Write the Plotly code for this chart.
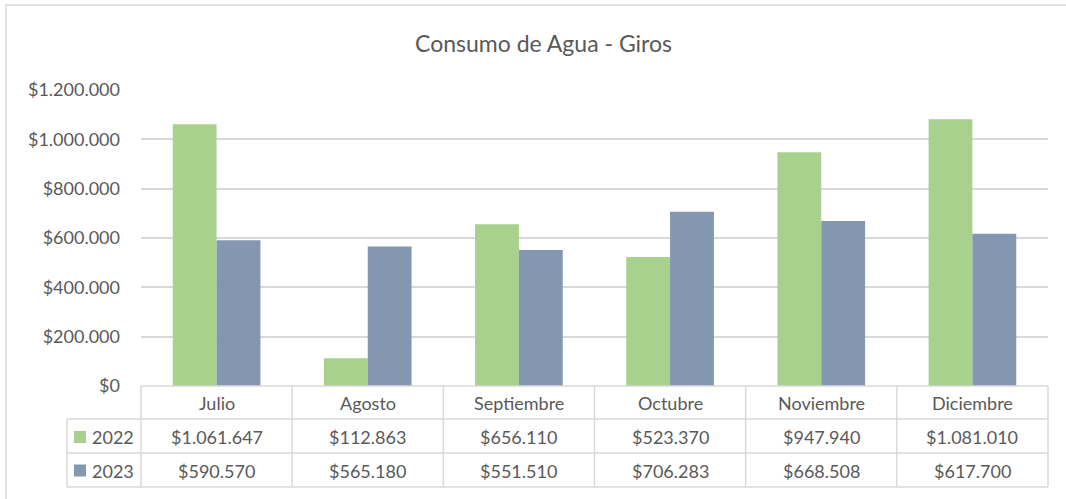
import plotly.graph_objects as go

months = ["Julio", "Agosto", "Septiembre", "Octubre", "Noviembre", "Diciembre"]
series_names = ["2022", "2023"]
values_2022 = [1061647, 112863, 656110, 523370, 947940, 1081010]
values_2023 = [590570, 565180, 551510, 706283, 668508, 617700]
colors = ["#A9D18E", "#8497B0"]
y_tickvals = [0, 200000, 400000, 600000, 800000, 1000000, 1200000]

W, H = 1066, 499
L, R, T, B = 141, 1048, 90, 386  # plot area in px

def fmt(v):
    return "$" + f"{v:,}".replace(",", ".")

def px(xp):
    return (xp - L) / (R - L)

def py(yp):
    return (B - yp) / (B - T)

FONT = "Lato"
TXT = "#595959"
GRID = "#D9D9D9"
FS = 18

fig = go.Figure()
for name, vals, col in zip(series_names, [values_2022, values_2023], colors):
    fig.add_trace(go.Bar(x=months, y=vals, name=name, marker_color=col,
                         marker_line_width=0, showlegend=False))

shapes = []
# outer frame
shapes.append(dict(type="rect", xref="paper", yref="paper",
                   x0=px(6), x1=px(W + 10), y0=py(H + 10), y1=py(5),
                   line=dict(color=GRID, width=1.5), layer="below"))
# table horizontal lines
row_y = [386, 419, 453, 487]
for i, yy in enumerate(row_y):
    x0 = L if i == 0 else 67
    shapes.append(dict(type="line", xref="paper", yref="paper",
                       x0=px(x0), x1=px(R), y0=py(yy), y1=py(yy),
                       line=dict(color=GRID, width=1.5)))
# table vertical lines
ncol = len(months)
colw = (R - L) / ncol
for i in range(ncol + 1):
    xx = L + i * colw
    shapes.append(dict(type="line", xref="paper", yref="paper",
                       x0=px(xx), x1=px(xx), y0=py(386), y1=py(487),
                       line=dict(color=GRID, width=1.5)))
shapes.append(dict(type="line", xref="paper", yref="paper",
                   x0=px(67), x1=px(67), y0=py(419), y1=py(487),
                   line=dict(color=GRID, width=1.5)))

annotations = []
annotations.append(dict(text="Consumo de Agua - Giros", xref="paper", yref="paper",
                        x=px(543), y=py(43), showarrow=False,
                        xanchor="center", yanchor="middle",
                        font=dict(family=FONT, size=23, color=TXT)))
row_centers = [403, 437, 470.5]
for i, m in enumerate(months):
    annotations.append(dict(text=m, xref="x", yref="paper", x=m, y=py(row_centers[0]),
                            xanchor="center", yanchor="middle",
                            showarrow=False, font=dict(family=FONT, size=FS, color=TXT)))
    for r, vals in enumerate([values_2022, values_2023]):
        annotations.append(dict(text=fmt(vals[i]), xref="x", yref="paper", x=m,
                                y=py(row_centers[r + 1]), showarrow=False,
                                xanchor="center", yanchor="middle",
                                font=dict(family=FONT, size=FS, color=TXT)))
for r, (name, col) in enumerate(zip(series_names, colors)):
    yc = row_centers[r + 1]
    shapes.append(dict(type="rect", xref="paper", yref="paper",
                       x0=px(74), x1=px(86), y0=py(yc + 6), y1=py(yc - 6),
                       fillcolor=col, line=dict(width=0)))
    annotations.append(dict(text=name, xref="paper", yref="paper", x=px(90), y=py(yc),
                            xanchor="left", yanchor="middle", showarrow=False,
                            font=dict(family=FONT, size=FS, color=TXT)))

fig.update_layout(
    width=W, height=H,
    margin=dict(l=L, r=W - R, t=T, b=H - B, pad=0),
    paper_bgcolor="white", plot_bgcolor="white",
    barmode="group", bargap=0.42, bargroupgap=0,
    font=dict(family=FONT, size=FS, color=TXT),
    xaxis=dict(showticklabels=False, showgrid=False, zeroline=False, showline=False,
               ticks="", range=[-0.5, 5.5]),
    yaxis=dict(range=[0, 1200000], tickvals=y_tickvals,
               ticktext=[fmt(v) for v in y_tickvals],
               showgrid=True, gridcolor=GRID, gridwidth=1.5, zeroline=False,
               showline=False, ticks="", ticklabelstandoff=20,
               tickfont=dict(family=FONT, size=FS, color=TXT)),
    shapes=shapes, annotations=annotations,
)

fig.write_html("out.html", config={"displayModeBar": False},
               post_script="document.body.style.margin='0';document.body.style.overflow='hidden';")
